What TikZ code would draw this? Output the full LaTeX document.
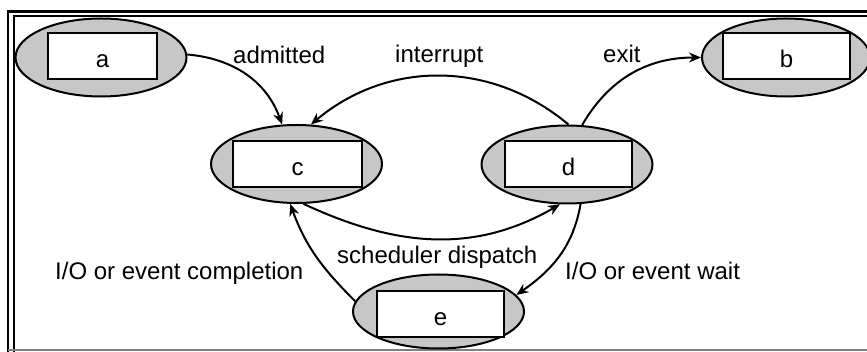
\documentclass[tikz,border=0pt]{standalone}
\usepackage{fontspec}
\setmainfont{Liberation Sans}
\usetikzlibrary{shapes.geometric,arrows.meta}
\definecolor{stip}{gray}{0.78}
\begin{document}
\begin{tikzpicture}[x=1pt,y=1pt,
  every node/.style={font=\fontsize{24}{28}\selectfont},
  state/.style={ellipse,draw,line width=2pt,fill=stip,minimum width=171pt,minimum height=78pt,inner sep=0pt},
  inbox/.style={draw,line width=2pt,fill=white,minimum width=127pt,minimum height=46pt,inner sep=0pt,text height=23pt,text depth=0pt},
  conn/.style={line width=2pt,-{Stealth[length=12pt,width=10pt]}},
  lab/.style={anchor=base west,inner sep=0pt},
  frameline/.style={line width=2.5pt}]
\useasboundingbox (0,0) rectangle (867,-352);
% frame
\draw[frameline] (867,-11.3) -- (8,-11.3) -- (8,-352);
\draw[frameline] (867,-15.8) -- (14,-15.8) -- (14,-352);
\draw[gray,line width=1.5pt] (8,-350) -- (867,-350);
% states
\node[state] (a) at (101,-57.5) {};
\node[state,minimum width=168pt] (b) at (786,-57.5) {};
\node[state] (c) at (296.5,-164) {};
\node[state] (d) at (567,-164.5) {};
\node[state,minimum height=74pt] (e) at (438.5,-311.5) {};
\node[inbox,minimum width=109pt] (ra) at (102.5,-56.5) {a};
\node[inbox] (rb) at (786.5,-56.5) {b};
\node[inbox,minimum width=129pt] (rc) at (297.5,-164.5) {c};
\node[inbox] (rd) at (568.5,-164.5) {d};
\node[inbox] (re) at (440.5,-314.5) {e};
% connectors
\draw[conn] (a.2) to[out=-5,in=110] (c.110);
\draw[conn] (d.88) to[out=140,in=40] (c.70);
\draw[conn] (d.69) to[out=60,in=180] (b.180);
\draw[conn] (c.-80) to[out=-25,in=-150] (d.-100);
\draw[conn] (d.-71) to[out=-100,in=35] (e.12);
\draw[conn] (e.173) to[out=135,in=-70] (c.-99);
% labels
\node[lab] (ladm) at (233,-64) {admitted};
\node[lab] (lint) at (395,-63) {interrupt};
\node[lab] (lexit) at (603,-63) {exit};
\node[lab] (lsch) at (337,-264) {scheduler dispatch};
\node[lab] (lcomp) at (55,-280) {I/O or event completion};
\node[lab] (lwait) at (565,-280) {I/O or event wait};
\end{tikzpicture}
\end{document}
